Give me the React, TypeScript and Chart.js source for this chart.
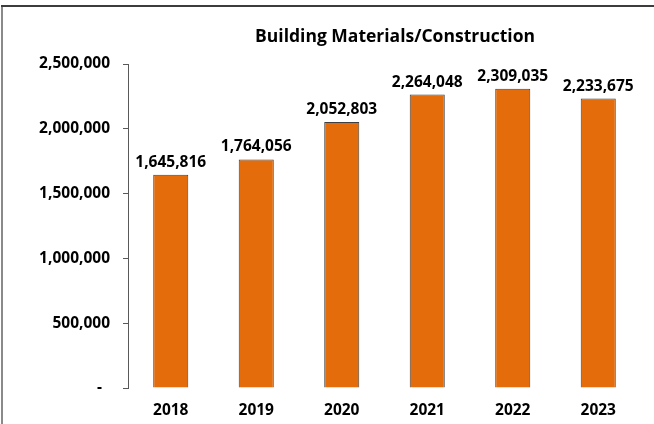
import React, { useEffect, useRef } from "react";
import { Chart, registerables } from "chart.js";

Chart.register(...registerables);

const categories = ["2018", "2019", "2020", "2021", "2022", "2023"];
const values = [1645816, 1764056, 2052803, 2264048, 2309035, 2233675];
const yTickValues = [0, 500000, 1000000, 1500000, 2000000, 2500000];
const titleText = "Building Materials/Construction";

const FONT = "'Open Sans'";
const fmt = (v: number) => (v === 0 ? "-" : v.toLocaleString("en-US"));

const decorPlugin = {
  id: "decor",
  beforeDraw(chart: any) {
    const { ctx, width, height } = chart;
    ctx.save();
    ctx.fillStyle = "#ffffff";
    ctx.fillRect(0, 0, width, height);
    ctx.restore();
  },
  afterDraw(chart: any) {
    const { ctx, width, height } = chart;
    ctx.save();
    ctx.fillStyle = "#8a8a8a";
    ctx.fillRect(1, 5, 2, height - 5);
    ctx.fillStyle = "#3c3c3c";
    ctx.fillRect(1, 5, width - 1, 2);
    ctx.fillStyle = "#000";
    ctx.font = `bold 17.5px ${FONT}`;
    ctx.textAlign = "center";
    ctx.textBaseline = "alphabetic";
    ctx.fillText(titleText, 395, 42);
    ctx.restore();
  },
  afterDatasetsDraw(chart: any) {
    const { ctx } = chart;
    const meta = chart.getDatasetMeta(0);
    ctx.save();
    ctx.fillStyle = "#000";
    ctx.font = `bold 15.5px ${FONT}`;
    ctx.textAlign = "center";
    ctx.textBaseline = "alphabetic";
    meta.data.forEach((bar: any, i: number) => {
      ctx.fillText(fmt(values[i]), bar.x, bar.y - 8);
    });
    ctx.restore();
  },
};

export default function App() {
  const ref = useRef<HTMLCanvasElement | null>(null);
  useEffect(() => {
    if (!ref.current) return;
    const chart = new Chart(ref.current, {
      type: "bar",
      data: {
        labels: categories,
        datasets: [
          {
            data: values,
            backgroundColor: "#E46C0A",
            borderColor: "#3f3f3f",
            borderWidth: 1,
            barPercentage: 0.41,
            categoryPercentage: 1,
          },
        ],
      },
      options: {
        responsive: false,
        animation: false,
        layout: { padding: { top: 64, right: 13, left: 0, bottom: 0 } },
        plugins: {
          legend: { display: false },
          title: { display: false },
          tooltip: { enabled: false },
        },
        scales: {
          x: {
            grid: { display: false, drawTicks: false },
            border: { display: false },
            ticks: {
              color: "#000",
              font: { family: FONT, weight: "bold", size: 15.5 },
              padding: 13,
            },
            afterFit: (s: any) => {
              s.height = 36;
            },
          },
          y: {
            min: 0,
            max: 2500000,
            afterBuildTicks: (s: any) => {
              s.ticks = yTickValues.map((v) => ({ value: v }));
            },
            grid: {
              drawOnChartArea: false,
              drawTicks: true,
              tickLength: 5,
              color: "#595959",
            },
            border: { display: true, color: "#595959" },
            ticks: {
              color: "#000",
              font: { family: FONT, weight: "bold", size: 15.5 },
              padding: 13,
              callback: (v: any) => (Number(v) === 0 ? "-  " : fmt(Number(v))),
            },
            afterFit: (s: any) => {
              s.width = 128;
            },
          },
        },
      },
      plugins: [decorPlugin],
    });
    return () => chart.destroy();
  }, []);
  return (
    <div style={{ position: "fixed", left: 0, top: 0, width: 654, height: 424 }}>
      <canvas ref={ref} width={654} height={424} style={{ display: "block" }} />
    </div>
  );
}
